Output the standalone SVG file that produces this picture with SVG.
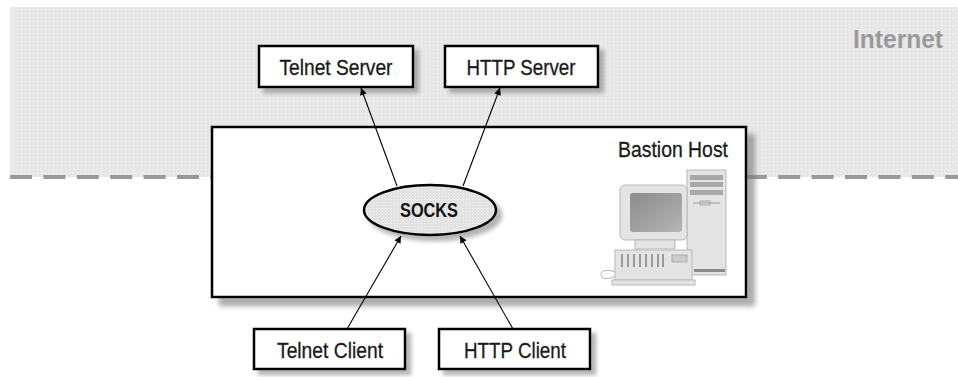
<svg xmlns="http://www.w3.org/2000/svg" width="958" height="377" viewBox="0 0 958 377">
  <style>
    .box { fill: #ffffff; stroke: #000000; stroke-width: 2.5; }
    .lbl { font-family: "Liberation Sans", Arial, sans-serif; font-size: 22px; fill: #1a1a1a; stroke: #1a1a1a; stroke-width: 0.3; text-anchor: middle; }
    .edge { stroke: #000000; stroke-width: 1.1; fill: none; marker-end: url(#arrow); }
    .ic { fill: #e4e4e4; stroke: #b8b8b8; stroke-width: 1; }
  </style>
  <defs>
    <marker id="arrow" viewBox="0 0 10 10" refX="10" refY="5" markerWidth="9" markerHeight="7" markerUnits="userSpaceOnUse" orient="auto">
      <path d="M0,0 L10,5 L0,10 z" fill="#000000"/>
    </marker>
    <filter id="shadow" x="-10%" y="-20%" width="130%" height="150%">
      <feDropShadow dx="5" dy="5" stdDeviation="2" flood-color="#777777" flood-opacity="0.55"/>
    </filter>
    <filter id="shadowBig" x="-5%" y="-10%" width="115%" height="125%">
      <feDropShadow dx="8" dy="8" stdDeviation="2.5" flood-color="#777777" flood-opacity="0.6"/>
    </filter>
    <pattern id="dots" width="4" height="4" patternUnits="userSpaceOnUse">
      <rect width="4" height="4" fill="#e7e7e7"/>
      <rect x="1" y="1" width="1" height="1" fill="#f7f7f7"/>
    </pattern>
    <pattern id="dotsDark" width="3" height="3" patternUnits="userSpaceOnUse">
      <rect width="3" height="3" fill="#e2e2e2"/>
      <rect x="1" y="1" width="1" height="1" fill="#f4f4f4"/>
    </pattern>
    <linearGradient id="screen" x1="0" y1="0" x2="1" y2="1">
      <stop offset="0" stop-color="#8c8c8c"/>
      <stop offset="1" stop-color="#b4b4b4"/>
    </linearGradient>
  </defs>

  <!-- Internet zone -->
  <g id="internet">
    <rect x="10" y="7" width="948" height="170" fill="url(#dots)"/>
    <line x1="10" y1="177" x2="958" y2="177" stroke="#999999" stroke-width="4" stroke-dasharray="22 11.4"/>
    <text x="943" y="48" font-family="Liberation Sans, Arial, sans-serif" font-size="26" font-weight="bold" fill="#9a9a9a" text-anchor="end" textLength="90" lengthAdjust="spacingAndGlyphs">Internet</text>
  </g>

  <!-- Bastion host -->
  <g id="bastion-host">
    <rect class="box" x="212" y="127" width="534" height="170" filter="url(#shadowBig)"/>
    <text class="lbl" x="673" y="157" textLength="110" lengthAdjust="spacingAndGlyphs">Bastion Host</text>
    <!-- workstation icon -->
    <g id="computer">
      <!-- tower -->
      <rect class="ic" x="687" y="170" width="39" height="105"/>
      <rect x="690" y="175" width="33" height="5" fill="#a8a8a8"/>
      <rect x="690" y="182" width="33" height="5" fill="#a8a8a8"/>
      <rect x="690" y="190" width="33" height="5" fill="#a8a8a8"/>
      <line x1="693" y1="203" x2="720" y2="203" stroke="#999999" stroke-width="1"/>
      <rect x="700" y="201" width="10" height="4" fill="none" stroke="#999999" stroke-width="0.8"/>
      <rect x="694" y="269" width="31" height="3" fill="#8a8a8a"/>
      <!-- monitor -->
      <rect class="ic" x="620" y="185" width="67" height="55" rx="5"/>
      <rect x="630" y="193" width="52" height="39" rx="3" fill="url(#screen)"/>
      <rect class="ic" x="635" y="240" width="40" height="9"/>
      <!-- keyboard -->
      <rect class="ic" x="615" y="250" width="77" height="30"/>
      <g stroke="#9a9a9a" stroke-width="2">
        <line x1="622" y1="254" x2="622" y2="267"/>
        <line x1="628" y1="254" x2="628" y2="267"/>
        <line x1="634" y1="254" x2="634" y2="267"/>
        <line x1="640" y1="254" x2="640" y2="267"/>
        <line x1="646" y1="254" x2="646" y2="267"/>
        <line x1="652" y1="254" x2="652" y2="267"/>
        <line x1="658" y1="254" x2="658" y2="267"/>
        <line x1="663" y1="254" x2="663" y2="267"/>
      </g>
      <rect x="672" y="255" width="15" height="7" fill="#cccccc" stroke="#a0a0a0" stroke-width="0.8"/>
      <rect class="ic" x="612" y="280" width="83" height="5"/>
      <path d="M615,272 C606,268 598,272 602,277 C605,280 612,278 615,276" fill="none" stroke="#b0b0b0" stroke-width="1"/>
    </g>
  </g>

  <!-- SOCKS -->
  <g id="socks">
    <ellipse cx="430" cy="210" rx="66" ry="25" fill="url(#dotsDark)" stroke="#000000" stroke-width="2.5" filter="url(#shadow)"/>
    <text x="429" y="217" font-family="Liberation Sans, Arial, sans-serif" font-size="21" font-weight="bold" fill="#111111" text-anchor="middle" textLength="58" lengthAdjust="spacingAndGlyphs">SOCKS</text>
  </g>

  <!-- Servers -->
  <g id="telnet-server">
    <rect class="box" x="259" y="46" width="154" height="41" filter="url(#shadow)"/>
    <text class="lbl" x="336" y="75" textLength="113" lengthAdjust="spacingAndGlyphs">Telnet Server</text>
  </g>
  <g id="http-server">
    <rect class="box" x="445" y="46" width="153" height="41" filter="url(#shadow)"/>
    <text class="lbl" x="521" y="75" textLength="109" lengthAdjust="spacingAndGlyphs">HTTP Server</text>
  </g>

  <!-- Clients -->
  <g id="telnet-client">
    <rect class="box" x="254" y="329" width="151" height="40" filter="url(#shadow)"/>
    <text class="lbl" x="330" y="358" textLength="106" lengthAdjust="spacingAndGlyphs">Telnet Client</text>
  </g>
  <g id="http-client">
    <rect class="box" x="439" y="329" width="151" height="40" filter="url(#shadow)"/>
    <text class="lbl" x="515" y="358" textLength="102" lengthAdjust="spacingAndGlyphs">HTTP Client</text>
  </g>

  <!-- Connectors -->
  <g id="connectors">
    <line class="edge" x1="397" y1="186" x2="361" y2="88"/>
    <line class="edge" x1="463" y1="186" x2="500" y2="88"/>
    <line class="edge" x1="347" y1="329" x2="401" y2="236"/>
    <line class="edge" x1="513" y1="329" x2="460" y2="236"/>
  </g>
</svg>
